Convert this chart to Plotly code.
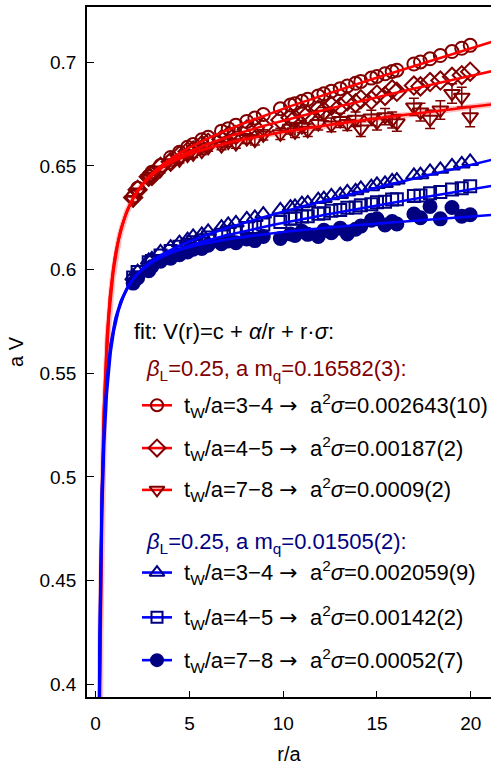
import numpy as np
import plotly.graph_objects as go

# ---- separations r/a shared by all Wilson-loop data sets ----
r_sep = [2.00, 2.24, 2.83, 3.00, 3.46, 4.00, 4.47, 4.90, 5.20, 5.66, 6.00, 6.71, 7.07, 7.48,
         8.06, 8.49, 8.94, 9.85, 10.39, 10.63, 11.00, 11.31, 11.87, 12.17, 12.57, 13.04, 13.42,
         13.86, 14.14, 14.70, 15.00, 15.43, 15.81, 16.06, 16.97, 17.32, 17.83, 18.38, 19.00,
         19.52, 19.97]

# heavy quark mass a m_q = 0.16582(3)
V_heavy_t34 = [0.6350, 0.6392, 0.6450, 0.6470, 0.6502, 0.6541, 0.6566, 0.6590, 0.6604, 0.6626,
               0.6638, 0.6668, 0.6680, 0.6697, 0.6715, 0.6731, 0.6748, 0.6776, 0.6794, 0.6800,
               0.6812, 0.6822, 0.6838, 0.6848, 0.6861, 0.6873, 0.6886, 0.6899, 0.6908, 0.6924,
               0.6932, 0.6945, 0.6956, 0.6962, 0.6992, 0.7002, 0.7017, 0.7033, 0.7052, 0.7068,
               0.7082]
V_heavy_t45 = [0.6348, 0.6385, 0.6448, 0.6452, 0.6496, 0.6520, 0.6551, 0.6570, 0.6575, 0.6601,
               0.6612, 0.6628, 0.6646, 0.6650, 0.6676, 0.6684, 0.6690, 0.6722, 0.6733, 0.6728,
               0.6752, 0.6748, 0.6772, 0.6765, 0.6790, 0.6786, 0.6812, 0.6803, 0.6822, 0.6818,
               0.6845, 0.6838, 0.6870, 0.6858, 0.6888, 0.6884, 0.6905, 0.6912, 0.6930, 0.6938,
               0.6955]
V_heavy_t78 = [0.6338, 0.6375, 0.6440, 0.6452, 0.6480, 0.6515, 0.6530, 0.6552, 0.6558, 0.6572,
               0.6590, 0.6598, 0.6615, 0.6608, 0.6632, 0.6625, 0.6650, 0.6655, 0.6682, 0.6665,
               0.6690, 0.6672, 0.6705, 0.6750, 0.6698, 0.6720, 0.6705, 0.6725, 0.6678, 0.6732,
               0.6712, 0.6738, 0.6722, 0.6708, 0.6785, 0.6760, 0.6725, 0.6770, 0.6850, 0.6832,
               0.6738]
err_heavy_t78 = [0.0012, 0.0012, 0.0013, 0.0013, 0.0014, 0.0015, 0.0016, 0.0017, 0.0017, 0.0018,
                 0.0019, 0.0020, 0.0021, 0.0022, 0.0023, 0.0024, 0.0025, 0.0027, 0.0028, 0.0028,
                 0.0029, 0.0030, 0.0031, 0.0032, 0.0033, 0.0034, 0.0034, 0.0035, 0.0036, 0.0037,
                 0.0038, 0.0039, 0.0039, 0.0040, 0.0042, 0.0043, 0.0044, 0.0045, 0.0047, 0.0048,
                 0.0049]

# light quark mass a m_q = 0.01505(2)
V_light_t34 = [0.5968, 0.5990, 0.6045, 0.6052, 0.6085, 0.6108, 0.6130, 0.6145, 0.6160, 0.6170,
               0.6185, 0.6205, 0.6218, 0.6225, 0.6245, 0.6252, 0.6268, 0.6288, 0.6302, 0.6305,
               0.6318, 0.6322, 0.6338, 0.6343, 0.6356, 0.6362, 0.6375, 0.6380, 0.6392, 0.6400,
               0.6411, 0.6416, 0.6428, 0.6432, 0.6455, 0.6458, 0.6474, 0.6484, 0.6500, 0.6510,
               0.6522]
V_light_t45 = [0.5962, 0.5988, 0.6035, 0.6042, 0.6068, 0.6090, 0.6110, 0.6120, 0.6132, 0.6142,
               0.6155, 0.6168, 0.6180, 0.6185, 0.6200, 0.6205, 0.6218, 0.6230, 0.6245, 0.6246,
               0.6256, 0.6258, 0.6270, 0.6272, 0.6284, 0.6288, 0.6298, 0.6300, 0.6310, 0.6315,
               0.6325, 0.6328, 0.6338, 0.6340, 0.6355, 0.6358, 0.6368, 0.6375, 0.6386, 0.6392,
               0.6402]
V_light_t78 = [0.5935, 0.5960, 0.5995, 0.6015, 0.6040, 0.6055, 0.6072, 0.6085, 0.6098, 0.6102,
               0.6118, 0.6125, 0.6138, 0.6130, 0.6148, 0.6140, 0.6160, 0.6150, 0.6172, 0.6165,
               0.6185, 0.6170, 0.6160, 0.6190, 0.6178, 0.6200, 0.6172, 0.6195, 0.6210, 0.6238,
               0.6245, 0.6215, 0.6232, 0.6220, 0.6268, 0.6250, 0.6305, 0.6245, 0.6300, 0.6258,
               0.6265]

# fit V(r) = c + alpha/r + sigma*r for each data set
fit_c = [0.6567, 0.6589, 0.6636, 0.6114, 0.6123, 0.6176]
fit_alpha = [-0.0551, -0.0564, -0.0619, -0.0403, -0.0394, -0.0465]
fit_sigma = [0.002643, 0.00187, 0.0009, 0.002059, 0.00142, 0.00052]

sigma_text = ["0.002643(10)", "0.00187(2)", "0.0009(2)", "0.002059(9)", "0.00142(2)", "0.00052(7)"]
tw_text = ["3\u22124", "4\u22125", "7\u22128", "3\u22124", "4\u22125", "7\u22128"]
mass_text = ["0.16582(3)", "0.01505(2)"]
beta_text = "0.25"

x_ticks = [0, 5, 10, 15, 20]
y_ticks = [0.4, 0.45, 0.5, 0.55, 0.6, 0.65, 0.7]
y_ticklabels = ["0.4", "0.45", "0.5", "0.55", "0.6", "0.65", "0.7"]

DRED = "#800000"
NAVY = "#000080"
RED = "#ff0000"
BLUE = "#0000ff"
FONT = "Liberation Sans, Arial, sans-serif"
LEG_SIZE = 22
ARROW = '<span style="font-family:DejaVu Sans">\u2192</span>'

data_sets = [V_heavy_t34, V_heavy_t45, V_heavy_t78, V_light_t34, V_light_t45, V_light_t78]
symbols = ["circle-open", "diamond-open", "triangle-down-open",
           "triangle-up-open", "square-open", "circle"]
sizes = [13, 14, 14, 14, 12, 13]
mcolors = [DRED] * 3 + [NAVY] * 3
lcolors = [RED] * 3 + [BLUE] * 3

fig = go.Figure()

# data points (blue first, red on top)
for i in [3, 4, 5, 0, 1, 2]:
    tr = dict(x=r_sep, y=data_sets[i], mode="markers", showlegend=False, hoverinfo="skip",
              marker=dict(symbol=symbols[i], size=sizes[i], color=mcolors[i],
                          line=dict(width=2, color=mcolors[i])))
    if i == 2:
        tr["error_y"] = dict(type="data", array=err_heavy_t78, color=DRED, thickness=1.5, width=5)
    fig.add_trace(go.Scatter(**tr))

# fit curves
r_fit = np.concatenate([np.linspace(0.12, 1.0, 300), np.linspace(1.0, 21.2, 500)])
for i in range(6):
    v_fit = fit_c[i] + fit_alpha[i] / r_fit + fit_sigma[i] * r_fit
    if i == 2:
        fig.add_trace(go.Scatter(x=r_fit, y=v_fit, mode="lines", showlegend=False, hoverinfo="skip",
                                 line=dict(color="rgba(255,0,0,0.25)", width=6)))
    fig.add_trace(go.Scatter(x=r_fit, y=v_fit, mode="lines", showlegend=False, hoverinfo="skip",
                             line=dict(color=lcolors[i], width=2.6)))

# ---- hand-built legend block (pixel layout of the plot area) ----
PL, PR, PT, PB = 87, 491, 7, 700


def fx(px):
    return (px - PL) / (PR - PL)


def fy(py):
    return (PB - py) / (PB - PT)


key_rows = [407, 450, 492, 575, 620, 663]
key_x0, key_x1, text_x = 142, 172, 182

annotations = []
annotations.append(dict(x=fx(132), y=fy(333), xref="paper", yref="paper", xanchor="left",
                        yanchor="middle", showarrow=False,
                        text="fit: V(r)=c + <i>\u03b1</i>/r + r\u00b7<i>\u03c3</i>:",
                        font=dict(family=FONT, size=LEG_SIZE, color="black")))
for g, (py, col) in enumerate([(372, DRED), (545, NAVY)]):
    annotations.append(dict(x=fx(144), y=fy(py), xref="paper", yref="paper", xanchor="left",
                            yanchor="middle", showarrow=False,
                            text=f"<i>\u03b2</i><sub>L</sub>={beta_text}, a m<sub>q</sub>={mass_text[g]}:",
                            font=dict(family=FONT, size=LEG_SIZE, color=col)))

for i in range(6):
    ky = fy(key_rows[i])
    fig.add_trace(go.Scatter(x=[fx(key_x0), fx(key_x1)], y=[ky, ky], xaxis="x2", yaxis="y2",
                             mode="lines", showlegend=False, hoverinfo="skip",
                             line=dict(color=lcolors[i], width=2.6)))
    fig.add_trace(go.Scatter(x=[fx((key_x0 + key_x1) / 2)], y=[ky], xaxis="x2", yaxis="y2",
                             mode="markers", showlegend=False, hoverinfo="skip",
                             marker=dict(symbol=symbols[i], size=sizes[i] - 1, color=mcolors[i],
                                         line=dict(width=2, color=mcolors[i]))))
    annotations.append(dict(x=fx(text_x), y=ky, xref="paper", yref="paper", xanchor="left",
                            yanchor="middle", showarrow=False,
                            text=f"t<sub>W</sub>/a={tw_text[i]} {ARROW}\u00a0 a<sup>2</sup><i>\u03c3</i>={sigma_text[i]}",
                            font=dict(family=FONT, size=LEG_SIZE, color="black")))

fig.update_layout(
    width=494, height=765,
    margin=dict(l=PL, r=494 - PR, t=PT, b=765 - PB),
    paper_bgcolor="white", plot_bgcolor="white",
    font=dict(family=FONT, size=19, color="black"),
    annotations=annotations,
    xaxis=dict(range=[-0.46, 21.08], tickvals=x_ticks, ticks="inside", ticklen=6, tickwidth=1.3,
               tickcolor="black", showline=True, linecolor="black", linewidth=1.5, mirror=True,
               showgrid=False, zeroline=False, ticklabelstandoff=8,
               title=dict(text="r/a", standoff=14, font=dict(size=20))),
    yaxis=dict(range=[0.3938, 0.7267], tickvals=y_ticks, ticktext=y_ticklabels, ticks="inside",
               ticklen=7, tickwidth=1.3, tickcolor="black", showline=True, linecolor="black",
               linewidth=1.5, showgrid=False, zeroline=False, ticklabelstandoff=5,
               title=dict(text="a V", standoff=10, font=dict(size=20))),
    xaxis2=dict(overlaying="x", range=[0, 1], visible=False),
    yaxis2=dict(overlaying="y", range=[0, 1], visible=False),
)

fig.write_html("out.html")
